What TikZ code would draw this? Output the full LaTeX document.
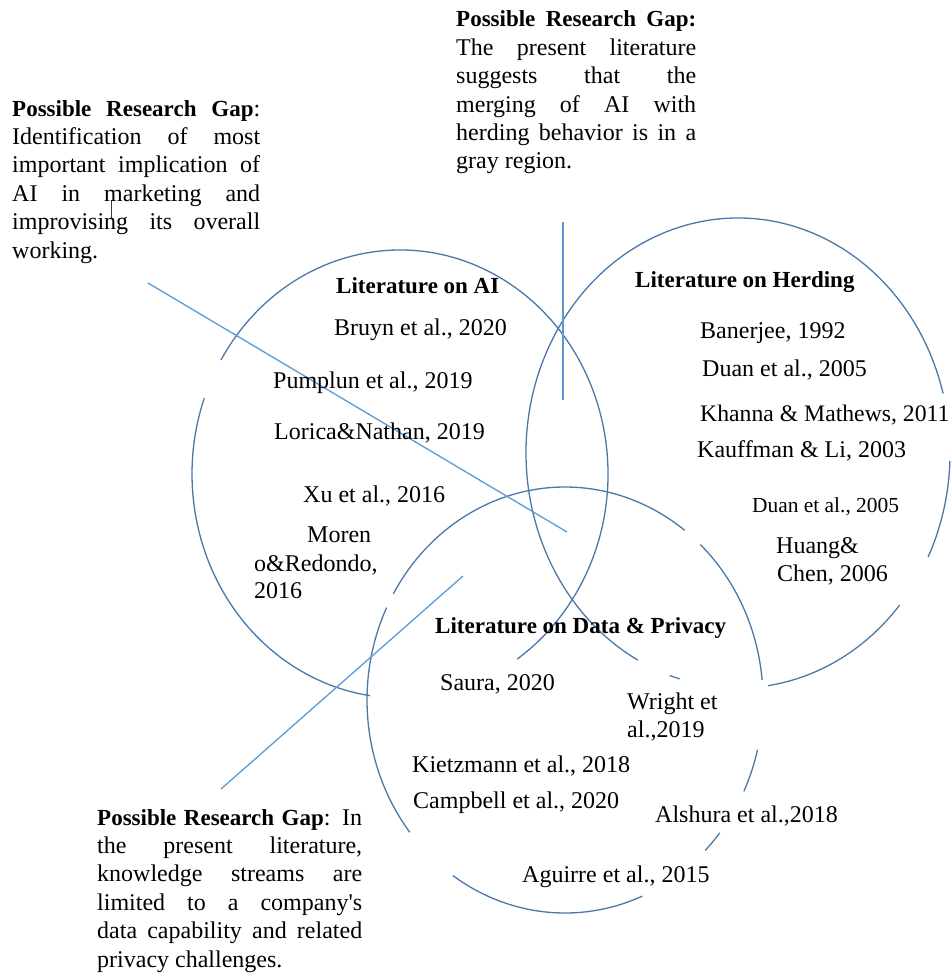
\documentclass[tikz,border=0pt]{standalone}
\usepackage{fontspec}
\setmainfont{Liberation Serif}
\definecolor{ringblue}{HTML}{4A78A8}
\definecolor{pointerblue}{HTML}{5B9BD5}
\definecolor{caretgray}{HTML}{3A3A3A}

% one visible piece of an elliptical ring: centre, radii, start and end angle
\newcommand\ringarc[6]{\draw[ringline,shift={(#1,#2)}] (#5:#3 and #4) arc[start angle=#5,end angle=#6,x radius=#3,y radius=#4];}

\begin{document}
\begin{tikzpicture}[x=1pt,y=-1pt,
  ringline/.style={draw=ringblue,line width=1.3pt},
  pointer/.style={draw=pointerblue,line width=1.3pt},
  ref/.style={anchor=base west,inner sep=0pt,font=\fontsize{24}{28.4}\selectfont},
  smallref/.style={anchor=base west,inner sep=0pt,font=\fontsize{21.4}{25}\selectfont},
  head/.style={anchor=base west,inner sep=0pt,font=\bfseries\fontsize{23}{28.4}\selectfont},
  gapnote/.style={anchor=base west,inner sep=0pt,font=\fontsize{24}{28.4}\selectfont}]
\useasboundingbox (0,0) rectangle (951,974);

% ring: literature on AI
\ringarc{400}{474}{208}{224}{98.3}{199.8}
\ringarc{400}{474}{208}{224}{210.6}{415.7}

% ring: literature on herding
\ringarc{738}{453}{212}{235}{118.2}{345.3}
\ringarc{738}{453}{212}{235}{362}{386.3}
\ringarc{738}{453}{212}{235}{400.3}{441.9}
\ringarc{738}{453}{212}{235}{466}{468.8}

% ring: literature on data & privacy
\ringarc{565}{700}{198}{213}{313.1}{354.6}
\ringarc{565}{700}{198}{213}{13.5}{25.4}
\ringarc{565}{700}{198}{213}{38.6}{44.9}
\ringarc{565}{700}{198}{213}{67}{124.5}
\ringarc{565}{700}{198}{213}{141.6}{205.7}
\ringarc{565}{700}{198}{213}{209.9}{307.2}

% pointer lines from the research-gap notes
\coordinate (pAIa) at (148,283);
\coordinate (pAIb) at (567,532);
\coordinate (pHa) at (563,222);
\coordinate (pHb) at (563,400);
\coordinate (pDa) at (221,789);
\coordinate (pDb) at (463,576);
\draw[pointer] (pAIa) -- (pAIb);
\draw[pointer] (pHa) -- (pHb);
\draw[pointer] (pDa) -- (pDb);

% text caret left in the note
\coordinate (caretTop) at (111,200);
\coordinate (caretBot) at (111,218);
\draw[caretgray,line width=0.8pt] (caretTop) -- (caretBot);

% AI ring contents
\node[head] (tAI) at (336,293) {Literature on AI};
\node[ref] (ai1) at (334,335) {Bruyn et al., 2020};
\node[ref] (ai2) at (273,388) {Pumplun et al., 2019};
\node[ref] (ai3) at (274,439) {Lorica\&Nathan, 2019};
\node[ref] (ai4) at (303,502) {Xu et al., 2016};
\node[ref] (ai5a) at (307,542) {Moren};
\node[ref] (ai5b) at (254,571) {o\&Redondo,};
\node[ref] (ai5c) at (254,598) {2016};

% herding ring contents
\node[head] (tH) at (635,287) {Literature on Herding};
\node[ref] (h1) at (700,338) {Banerjee, 1992};
\node[ref] (h2) at (702,376) {Duan et al., 2005};
\node[ref,font=\fontsize{23.7}{28.4}\selectfont] (h3) at (700,421) {Khanna \& Mathews, 2011};
\node[ref] (h4) at (697,457) {Kauffman \& Li, 2003};
\node[smallref] (h5) at (752,512) {Duan et al., 2005};
\node[ref] (h6a) at (776,553) {Huang\&};
\node[ref] (h6b) at (777,581) {Chen, 2006};

% data & privacy ring contents
\node[head] (tD) at (435,633) {Literature on Data \& Privacy};
\node[ref] (d1) at (440,690) {Saura, 2020};
\node[ref] (d2a) at (627,709) {Wright et};
\node[ref] (d2b) at (627,737) {al.,2019};
\node[ref] (d3) at (412,772) {Kietzmann et al., 2018};
\node[ref] (d4) at (413,808) {Campbell et al., 2020};
\node[ref] (d5) at (655,822) {Alshura et al.,2018};
\node[ref] (d6) at (522,882) {Aguirre et al., 2015};

% research-gap notes
\node[gapnote] (gapH) at (456,27) {\parbox[t]{240pt}{\textbf{\fontsize{23}{28.4}\selectfont Possible Research Gap:}\linebreak
The present literature\linebreak suggests that the\linebreak merging of AI with\linebreak
herding behavior is in a\linebreak gray region.}};
\node[gapnote] (gapAI) at (12,116) {\parbox[t]{248pt}{\textbf{\fontsize{23}{28.4}\selectfont Possible Research Gap}:\linebreak
Identification of most\linebreak important implication of\linebreak AI in marketing and\linebreak
improvising its overall\linebreak working.}};
\node[gapnote] (gapD) at (97,825) {\parbox[t]{265pt}{\textbf{\fontsize{23}{28.4}\selectfont Possible Research Gap}: In\linebreak
the present literature,\linebreak knowledge streams are\linebreak limited to a company\textquotesingle s\linebreak
data capability and related\linebreak privacy challenges.}};
\end{tikzpicture}
\end{document}
